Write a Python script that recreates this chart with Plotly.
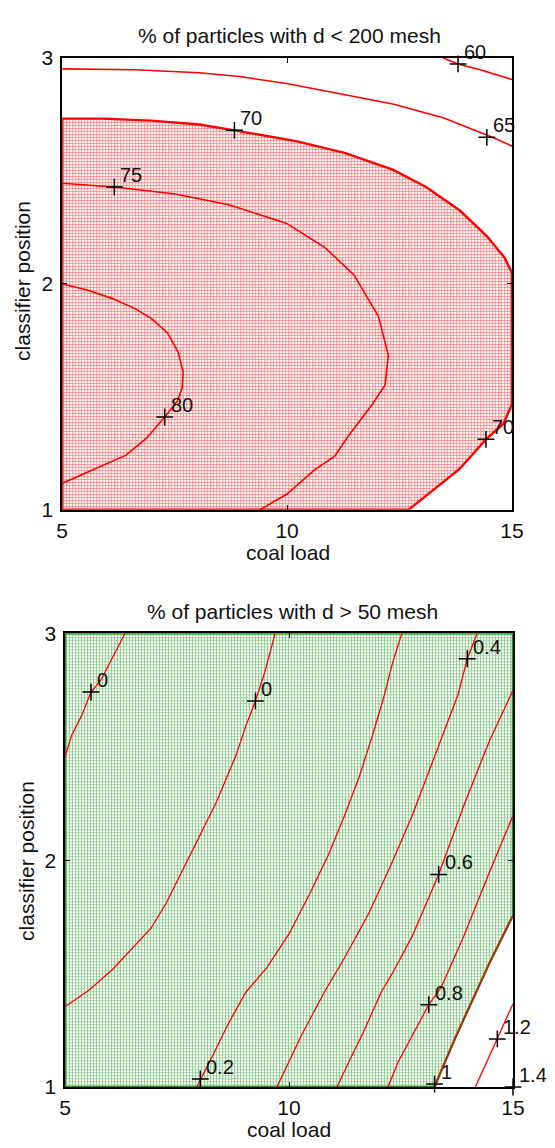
import plotly.graph_objects as go

# ---------------- data: top chart (% of particles with d < 200 mesh) ----------------
c60_x = [13.47, 13.80, 14.29, 15.0]
c60_y = [3.0, 2.974, 2.948, 2.905]

c65_x = [5.0, 6.63, 8.05, 8.94, 9.99, 11.75, 12.35, 13.47, 14.51, 15.0]
c65_y = [2.952, 2.948, 2.935, 2.918, 2.887, 2.818, 2.797, 2.736, 2.654, 2.610]

c70_x = [5.0, 5.90, 6.98, 8.05, 8.83, 10.20, 11.28, 12.35, 13.09, 13.84, 14.44, 14.83,
         15.0, 15.0, 14.81, 14.42, 13.84, 13.09, 12.70]
c70_y = [2.732, 2.732, 2.723, 2.706, 2.680, 2.632, 2.580, 2.506, 2.429, 2.325, 2.212, 2.117,
         2.050, 1.468, 1.381, 1.312, 1.182, 1.061, 1.0]

c75_x = [5.0, 6.16, 7.52, 8.70, 9.99, 10.85, 11.49, 12.03, 12.25, 12.18, 11.90, 11.37,
         11.06, 10.61, 9.99, 9.39]
c75_y = [2.446, 2.429, 2.398, 2.351, 2.268, 2.160, 2.039, 1.857, 1.684, 1.554, 1.468, 1.329,
         1.238, 1.177, 1.069, 1.0]

c80_x = [5.0, 5.54, 6.12, 6.61, 6.98, 7.34, 7.58, 7.69, 7.67, 7.56, 7.28, 6.87, 6.42,
         5.88, 5.37, 5.0]
c80_y = [2.0, 1.974, 1.935, 1.892, 1.848, 1.784, 1.697, 1.610, 1.541, 1.481, 1.411, 1.316,
         1.242, 1.195, 1.147, 1.117]

top_lab_text = ["60", "65", "70", "75", "80", "70"]
top_lab_x = [13.80, 14.44, 8.83, 6.16, 7.28, 14.42]
top_lab_y = [2.974, 2.649, 2.680, 2.429, 1.411, 1.312]

# ---------------- data: bottom chart (% of particles with d > 50 mesh) ----------------
z0a_x = [6.34, 6.02, 5.80, 5.58, 5.37, 5.15, 5.0]
z0a_y = [3.0, 2.879, 2.793, 2.741, 2.637, 2.551, 2.456]

z0b_x = [9.69, 9.47, 9.25, 9.04, 8.82, 8.39, 7.96, 7.57, 7.25, 6.92, 6.34, 6.06, 5.54, 5.0]
z0b_y = [3.0, 2.836, 2.702, 2.594, 2.464, 2.261, 2.089, 1.937, 1.808, 1.700, 1.579, 1.518,
         1.428, 1.354]

z02_x = [12.52, 12.32, 12.11, 11.85, 11.57, 11.24, 10.88, 10.46, 10.01, 9.51, 9.04, 8.65,
         8.35, 8.02, 7.94]
z02_y = [3.0, 2.875, 2.715, 2.542, 2.369, 2.197, 2.024, 1.851, 1.678, 1.527, 1.419, 1.281,
         1.160, 1.035, 1.0]

z04_x = [14.20, 13.98, 13.77, 13.25, 12.75, 12.28, 11.78, 11.24, 10.79, 10.27, 9.95, 9.73]
z04_y = [3.0, 2.888, 2.728, 2.456, 2.197, 1.981, 1.765, 1.570, 1.419, 1.225, 1.095, 1.0]

z06_x = [15.0, 14.48, 13.90, 13.34, 12.75, 12.32, 12.06, 11.67, 11.35, 11.07]
z06_y = [2.749, 2.529, 2.240, 1.937, 1.665, 1.505, 1.419, 1.246, 1.117, 1.0]

z08_x = [15.0, 14.48, 13.90, 13.40, 13.12, 12.75, 12.43, 12.21]
z08_y = [2.197, 1.950, 1.665, 1.441, 1.363, 1.225, 1.108, 1.0]

z10_x = [15.0, 14.48, 14.11, 13.73, 13.40, 13.25]
z10_y = [1.756, 1.549, 1.389, 1.225, 1.073, 1.0]

z12_x = [15.0, 14.65, 14.16]
z12_y = [1.367, 1.212, 1.0]

bot_lab_text = ["0", "0", "0.2", "0.4", "0.6", "0.8", "1", "1.2", "1.4"]
bot_lab_x = [5.58, 9.25, 8.02, 13.98, 13.34, 13.12, 13.25, 14.65, 15.0]
bot_lab_y = [2.741, 2.702, 1.035, 2.888, 1.937, 1.363, 1.013, 1.212, 1.0]

x_ticks = [5, 10, 15]
y_ticks = [1, 2, 3]
x_range = [5, 15]
y_range = [1, 3]

# ---------------- figure ----------------
W, H = 555, 1148
FONT = "Liberation Sans, Arial, sans-serif"
RED = "#ff0000"
GREEN = "#1f8f1f"

fig = go.Figure()

# top: filled region (>= 70) closed along bottom and left edges
fx = c70_x + [x_range[0], x_range[0]]
fy = c70_y + [y_range[0], c70_y[0]]
fig.add_trace(go.Scatter(
    x=fx, y=fy, mode="lines", fill="toself", xaxis="x", yaxis="y",
    fillcolor="rgba(0,0,0,0)",
    fillpattern=dict(shape="+", size=3, solidity=0.42, fgcolor="#ff3b3b",
                     bgcolor="#ffffff", fgopacity=0.7),
    line=dict(color=RED, width=2.4), hoverinfo="skip", showlegend=False))

for cx, cy in [(c60_x, c60_y), (c65_x, c65_y), (c75_x, c75_y), (c80_x, c80_y)]:
    fig.add_trace(go.Scatter(x=cx, y=cy, mode="lines", xaxis="x", yaxis="y",
                             line=dict(color=RED, width=1.6), showlegend=False,
                             hoverinfo="skip"))

fig.add_trace(go.Scatter(x=top_lab_x, y=top_lab_y, mode="markers", xaxis="x", yaxis="y",
                         marker=dict(symbol="cross-thin", size=12,
                                     line=dict(color="black", width=1.5)),
                         cliponaxis=False, showlegend=False, hoverinfo="skip"))

# bottom: filled region (<= 1)
gx = [x_range[0], x_range[0], x_range[1]] + z10_x + [x_range[0]]
gy = [y_range[0], y_range[1], y_range[1]] + z10_y + [y_range[0]]
fig.add_trace(go.Scatter(
    x=gx, y=gy, mode="lines", fill="toself", xaxis="x2", yaxis="y2",
    fillcolor="rgba(0,0,0,0)",
    fillpattern=dict(shape="+", size=3, solidity=0.42, fgcolor="#35a035",
                     bgcolor="#ffffff", fgopacity=0.65),
    line=dict(color=GREEN, width=2.4), hoverinfo="skip", showlegend=False))

for cx, cy in [(z0a_x, z0a_y), (z0b_x, z0b_y), (z02_x, z02_y), (z04_x, z04_y),
               (z06_x, z06_y), (z08_x, z08_y), (z10_x, z10_y), (z12_x, z12_y)]:
    fig.add_trace(go.Scatter(x=cx, y=cy, mode="lines", xaxis="x2", yaxis="y2",
                             line=dict(color=RED, width=1.3), showlegend=False,
                             hoverinfo="skip"))

fig.add_trace(go.Scatter(x=bot_lab_x, y=bot_lab_y, mode="markers", xaxis="x2", yaxis="y2",
                         marker=dict(symbol="cross-thin", size=12,
                                     line=dict(color="black", width=1.5)),
                         cliponaxis=False, showlegend=False, hoverinfo="skip"))

label_font = dict(family=FONT, size=20, color="#111")
annotations = []
for t, x, y in zip(top_lab_text, top_lab_x, top_lab_y):
    annotations.append(dict(x=x, y=y, xref="x", yref="y", text=t, showarrow=False,
                            xanchor="left", yanchor="middle", xshift=4, yshift=12,
                            font=label_font))
for t, x, y in zip(bot_lab_text, bot_lab_x, bot_lab_y):
    annotations.append(dict(x=x, y=y, xref="x2", yref="y2", text=t, showarrow=False,
                            xanchor="left", yanchor="middle", xshift=4, yshift=12,
                            font=label_font))

def px_x(p):
    return p / W

def px_y(p):
    return 1 - p / H

text_font = dict(family=FONT, size=21, color="#111")
annotations += [
    dict(x=px_x(293), y=px_y(24), xref="paper", yref="paper",
         text="% of particles with d &lt; 200 mesh", showarrow=False, font=text_font,
         xanchor="center", yanchor="middle"),
    dict(x=px_x(296), y=px_y(612), xref="paper", yref="paper",
         text="% of particles with d &gt; 50 mesh", showarrow=False, font=text_font,
         xanchor="center", yanchor="middle"),
    dict(x=px_x(291), y=px_y(552), xref="paper", yref="paper", text="coal load",
         showarrow=False, font=text_font, xanchor="center", yanchor="middle"),
    dict(x=px_x(292), y=px_y(1140), xref="paper", yref="paper", text="coal load",
         showarrow=False, font=text_font, xanchor="center", yanchor="middle"),
    dict(x=px_x(17), y=px_y(274), xref="paper", yref="paper", text="classifier position",
         showarrow=False, font=text_font, textangle=-90, xanchor="center", yanchor="middle"),
    dict(x=px_x(21), y=px_y(866), xref="paper", yref="paper", text="classifier position",
         showarrow=False, font=text_font, textangle=-90, xanchor="center", yanchor="middle"),
]

axis_common = dict(showline=True, linecolor="black", linewidth=1.5, mirror="ticks",
                   ticks="inside", ticklen=5, tickwidth=1, tickcolor="black",
                   showgrid=False, zeroline=False, tickfont=text_font, fixedrange=True)

fig.update_layout(
    width=W, height=H, margin=dict(l=0, r=0, t=0, b=0),
    paper_bgcolor="white", plot_bgcolor="white", showlegend=False,
    font=dict(family=FONT),
    xaxis=dict(domain=[px_x(58), px_x(523)], range=x_range, tickvals=x_ticks,
               anchor="y", ticklabelstandoff=1, **axis_common),
    yaxis=dict(domain=[px_y(508), px_y(47)], range=y_range, tickvals=y_ticks,
               anchor="x", ticklabelstandoff=3, **axis_common),
    xaxis2=dict(domain=[px_x(61), px_x(524)], range=x_range, tickvals=x_ticks,
                anchor="y2", ticklabelstandoff=1, **axis_common),
    yaxis2=dict(domain=[px_y(1097), px_y(634)], range=y_range, tickvals=y_ticks,
                anchor="x2", ticklabelstandoff=3, **axis_common),
    annotations=annotations,
)

fig.write_html("out.html")
